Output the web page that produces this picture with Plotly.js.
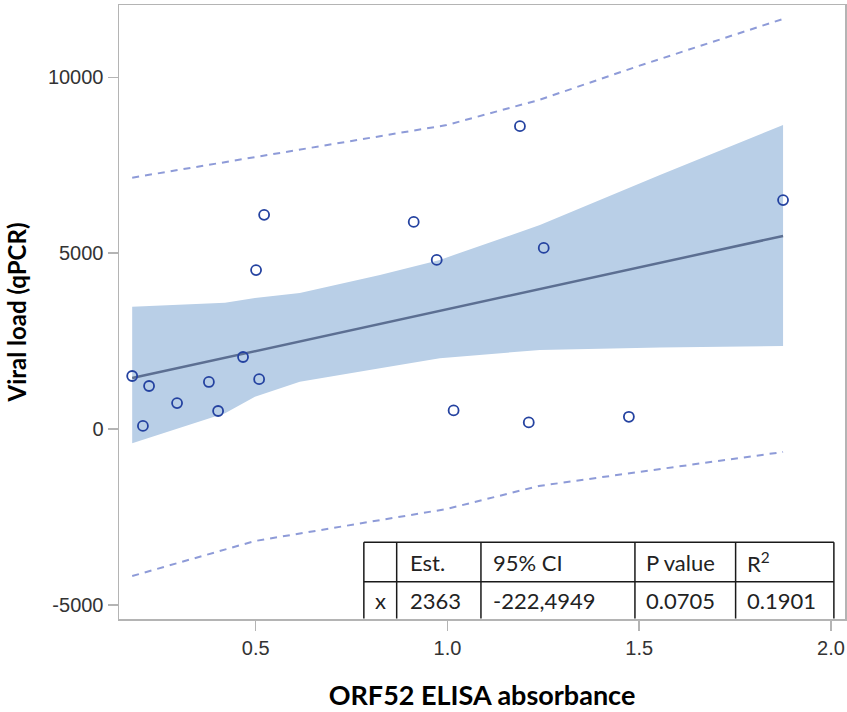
<!DOCTYPE html>
<html>
<head>
<meta charset="utf-8">
<script src="https://cdn.plot.ly/plotly-3.0.1.min.js"></script>
<style>html,body{margin:0;padding:0;background:#fff;}#chart{width:847px;height:712px;}</style>
</head>
<body>
<div id="chart"></div>
<script>
// Observed data points
var absorbance = [0.178, 0.206, 0.222, 0.295, 0.378, 0.402, 0.467, 0.501, 0.509, 0.522, 0.912, 0.972, 1.016, 1.189, 1.212, 1.251, 1.473, 1.875];
var viralLoad  = [1510, 90, 1225, 740, 1340, 515, 2050, 4520, 1420, 6090, 5890, 4810, 530, 8610, 190, 5150, 350, 6510];

// Fitted regression line (read at ends)
var fitX = [0.178, 1.875];
var fitY = [1450, 5490];

// 95% confidence band for the mean
var bandX     = [0.178, 0.420, 0.498, 0.615, 0.824, 0.980, 1.241, 1.554, 1.875];
var bandUpper = [3480, 3594, 3730, 3870, 4380, 4810, 5800, 7220, 8646];
var bandLower = [-404, 449, 921, 1348, 1728, 2013, 2250, 2320, 2362];

// 95% prediction limits
var predX     = [0.178, 0.498, 0.998, 1.238, 1.498, 1.875];
var predUpper = [7147, 7734, 8643, 9353, 10320, 11659];
var predLower = [-4176, -3181, -2271, -1618, -1220, -651];

// Statistics table
var tableHeader = ["", "Est.", "95% CI", "P value", "R<sup>2</sup>"];
var tableRow    = ["x", "2363", "-222,4949", "0.0705", "0.1901"];

// Tick labels
var xTicks = [0.5, 1.0, 1.5, 2.0];
var xTickText = ["0.5", "1.0", "1.5", "2.0"];
var yTicks = [-5000, 0, 5000, 10000];
var yTickText = ["-5000", "0", "5000", "10000"];

var xRange = [0.1436, 2.0365];
var yRange = [-5398, 12055];

var traces = [
  {x: bandX, y: bandLower, mode: 'lines', line: {width: 0, color: 'rgba(0,0,0,0)'}, hoverinfo: 'skip', showlegend: false},
  {x: bandX, y: bandUpper, mode: 'lines', fill: 'tonexty', fillcolor: '#b9cfe7', line: {width: 0, color: 'rgba(0,0,0,0)'}, hoverinfo: 'skip', showlegend: false, name: '95% Confidence Limits'},
  {x: predX, y: predUpper, mode: 'lines', line: {color: '#8e9bd8', width: 2, dash: '7px,6px'}, showlegend: false, name: '95% Prediction Limits'},
  {x: predX, y: predLower, mode: 'lines', line: {color: '#8e9bd8', width: 2, dash: '7px,6px'}, showlegend: false, name: '95% Prediction Limits'},
  {x: fitX, y: fitY, mode: 'lines', line: {color: '#5c6f92', width: 2.5}, showlegend: false, name: 'Fit'},
  {x: absorbance, y: viralLoad, mode: 'markers', type: 'scatter',
   marker: {symbol: 'circle-open', size: 10, color: '#2442a0', line: {width: 1.8, color: '#2442a0'}},
   showlegend: false, name: 'Observations'}
];

// Table geometry (data coordinates)
var colX = [0.782, 0.8676, 1.0873, 1.4888, 1.7513, 2.0075];
var rowTop = -3218, rowMid = -4338, rowBot = -5385;
var headerY = -3790, valueY = -4880;
var textX = [0.806, 0.897, 1.1134, 1.513, 1.7756];

var shapes = [];
var lineStyle = {color: '#1a1a1a', width: 1.5};
shapes.push({type: 'line', xref: 'x', yref: 'y', x0: colX[0], x1: colX[5], y0: rowTop, y1: rowTop, line: lineStyle});
shapes.push({type: 'line', xref: 'x', yref: 'y', x0: colX[0], x1: colX[5], y0: rowMid, y1: rowMid, line: lineStyle});
for (var i = 0; i < colX.length; i++) {
  shapes.push({type: 'line', xref: 'x', yref: 'y', x0: colX[i], x1: colX[i], y0: rowTop, y1: rowBot, line: lineStyle});
}

var annotations = [];
for (var j = 0; j < tableHeader.length; j++) {
  if (tableHeader[j]) annotations.push({x: textX[j], y: headerY, xref: 'x', yref: 'y', text: tableHeader[j], showarrow: false, xanchor: 'left', yanchor: 'middle', font: {family: 'Lato, Open Sans, sans-serif', size: 22, color: '#222'}});
  annotations.push({x: textX[j], y: valueY, xref: 'x', yref: 'y', text: tableRow[j], showarrow: false, xanchor: 'left', yanchor: 'middle', font: {family: 'Lato, Open Sans, sans-serif', size: 22, color: '#222'}});
}

var layout = {
  width: 847, height: 712,
  margin: {l: 119, r: 2, t: 5, b: 93},
  paper_bgcolor: '#fff', plot_bgcolor: '#fff',
  showlegend: false,
  xaxis: {
    range: xRange, tickvals: xTicks, ticktext: xTickText,
    showgrid: false, zeroline: false, showline: true, mirror: true,
    linecolor: '#b4b4b4', linewidth: 1.5,
    ticks: 'outside', ticklen: 10, tickcolor: '#b4b4b4', tickwidth: 1.5,
    tickfont: {family: 'Liberation Sans, Arial, sans-serif', size: 20, color: '#333'},
    title: {text: 'ORF52 ELISA absorbance', standoff: 28, font: {family: 'Lato, Open Sans, sans-serif', size: 27, color: '#000', weight: 'bold'}}
  },
  yaxis: {
    range: yRange, tickvals: yTicks, ticktext: yTickText,
    showgrid: false, zeroline: false, showline: true, mirror: true,
    linecolor: '#b4b4b4', linewidth: 1.5,
    ticks: 'outside', ticklen: 10, tickcolor: '#b4b4b4', tickwidth: 1.5,
    tickfont: {family: 'Liberation Sans, Arial, sans-serif', size: 20, color: '#333'},
    title: {text: 'Viral load (qPCR)', standoff: 14, font: {family: 'Lato, Open Sans, sans-serif', size: 24, color: '#000', weight: 'bold'}}
  },
  shapes: shapes,
  annotations: annotations
};

Plotly.newPlot('chart', traces, layout, {displayModeBar: false, staticPlot: true});
</script>
</body>
</html>
